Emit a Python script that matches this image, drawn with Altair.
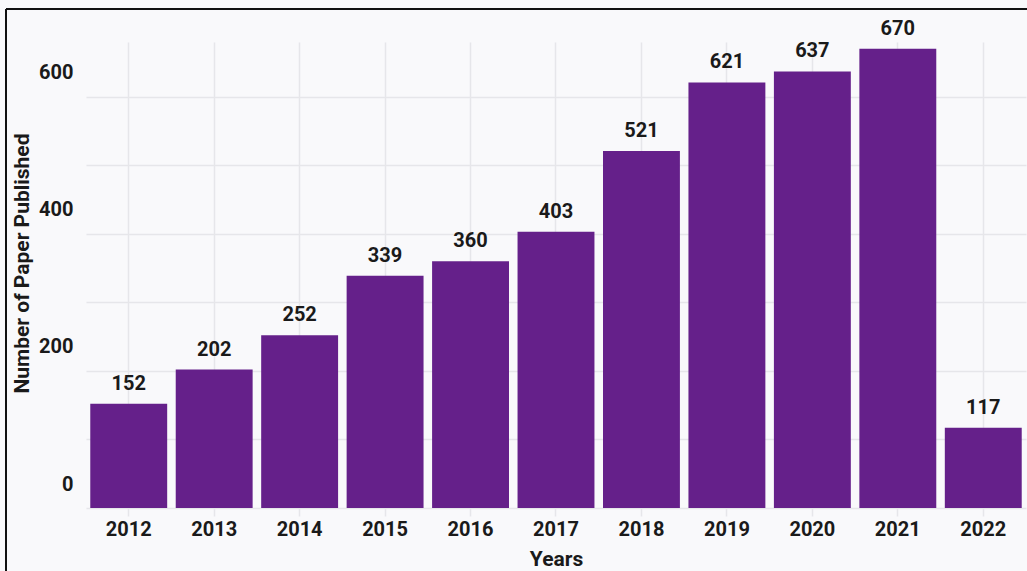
import altair as alt
import pandas as pd

years = ["2012", "2013", "2014", "2015", "2016", "2017", "2018", "2019", "2020", "2021", "2022"]
papers = [152, 202, 252, 339, 360, 403, 521, 621, 637, 670, 117]

df = pd.DataFrame({"Years": years, "Papers": papers})

FONT = "Roboto"
BAR = "#65208a"
GRID = "#e6e6ea"
TXT = "#1a1a1a"

x_enc = alt.X(
    "Years:N",
    sort=years,
    scale=alt.Scale(paddingInner=0.1, paddingOuter=0.05),
    axis=alt.Axis(
        title="Years",
        labelAngle=0,
        labelFont=FONT, labelFontSize=20, labelFontWeight="bold", labelColor=TXT,
        labelPadding=3,
        titleFont=FONT, titleFontSize=21, titleFontWeight="bold", titleColor=TXT,
        titleY=51, titleBaseline="middle",
        ticks=True, tickSize=8, tickColor=GRID, tickWidth=1.5,
        grid=True, gridColor=GRID, gridWidth=1.5,
        domain=False,
    ),
)

y_enc = alt.Y(
    "Papers:Q",
    scale=alt.Scale(domain=[0, 680], nice=False),
    axis=alt.Axis(
        title="Number of Paper Published",
        values=[0, 100, 200, 300, 400, 500, 600],
        labelExpr="datum.value % 200 == 0 ? datum.label : ''",
        labelFont=FONT, labelFontSize=20, labelFontWeight="bold", labelColor=TXT,
        labelPadding=13, labelOffset=-24,
        titleFont=FONT, titleFontSize=21, titleFontWeight="bold", titleColor=TXT,
        titleX=-64, titleY=221, titleAlign="center", titleBaseline="middle", titleAngle=-90,
        ticks=False, grid=True, gridColor=GRID, gridWidth=1.5,
        domain=False,
    ),
)

bars = alt.Chart(df).mark_bar(color=BAR).encode(x=x_enc, y=y_enc)

labels = alt.Chart(df).mark_text(
    font=FONT, fontSize=20, fontWeight="bold", color=TXT,
    baseline="alphabetic", dy=-14,
).encode(
    x=alt.X("Years:N", sort=years),
    y=alt.Y("Papers:Q"),
    text=alt.Text("Papers:Q"),
)

# decorative frame around the figure (left and top edges visible)
frame_left = alt.Chart(df).mark_rule(color="#111111", strokeWidth=2).encode(
    x=alt.value(-80), y=alt.value(-33), y2=alt.value(540)
)
frame_top = alt.Chart(df).mark_rule(color="#111111", strokeWidth=2).encode(
    x=alt.value(-80), x2=alt.value(960), y=alt.value(-33)
)

chart = alt.layer(bars, labels, frame_left, frame_top).properties(
    width=940,
    height=466,
    autosize=alt.AutoSizeParams(type="none"),
    padding={"left": 86, "top": 42, "right": 1, "bottom": 63},
    background="#f9f9fb",
).configure_view(stroke=None)

chart.save("out.html", embed_options={"renderer": "svg", "actions": False})
